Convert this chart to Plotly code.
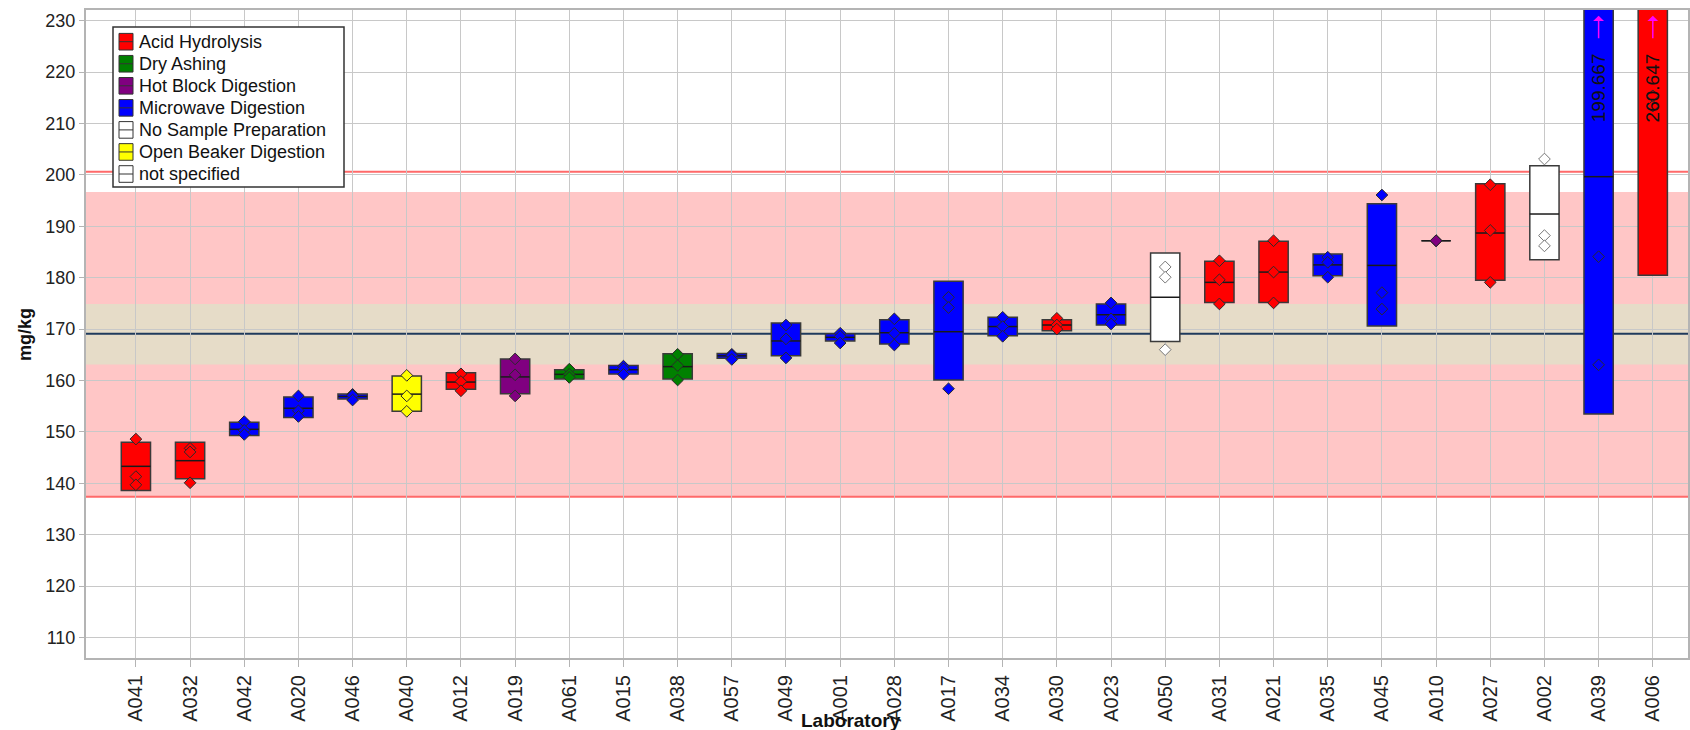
import plotly.graph_objects as go

labs = ["A041","A032","A042","A020","A046","A040","A012","A019","A061","A015",
        "A038","A057","A049","A001","A028","A017","A034","A030","A023","A050",
        "A031","A021","A035","A045","A010","A027","A002","A039","A006"]
methods = ["Acid Hydrolysis","Acid Hydrolysis","Microwave Digestion","Microwave Digestion",
           "Microwave Digestion","Open Beaker Digestion","Acid Hydrolysis","Hot Block Digestion",
           "Dry Ashing","Microwave Digestion","Dry Ashing","Microwave Digestion",
           "Microwave Digestion","Microwave Digestion","Microwave Digestion","Microwave Digestion",
           "Microwave Digestion","Acid Hydrolysis","Microwave Digestion","No Sample Preparation",
           "Acid Hydrolysis","Acid Hydrolysis","Microwave Digestion","Microwave Digestion",
           "Hot Block Digestion","Acid Hydrolysis","not specified","Microwave Digestion",
           "Acid Hydrolysis"]
box_low = [138.6,140.9,149.3,152.8,156.4,154.0,158.3,157.4,160.3,161.25,160.3,164.35,164.8,
           167.7,167.1,160.1,168.7,169.7,170.8,167.6,175.2,175.2,180.4,170.6,187.2,179.5,
           183.5,153.5,180.5]
box_mid = [143.3,144.4,150.5,154.6,156.9,157.35,159.7,160.7,161.2,162.1,162.7,164.8,167.7,
           168.4,169.3,169.5,170.5,170.8,172.8,176.2,179.1,181.1,182.5,182.4,187.2,188.7,
           192.4,199.667,260.647]
box_high = [148.0,148.0,151.9,156.8,157.35,160.9,161.5,164.2,162.1,162.9,165.2,165.25,171.2,
            169.1,171.8,179.3,172.3,171.8,174.9,184.8,183.2,187.1,184.6,194.4,187.2,198.3,
            201.8,245.9,340.7]
rep1 = [148.6,146.8,152.0,157.0,157.3,161.0,161.3,164.2,162.2,162.8,165.1,165.1,170.8,169.2,
        172.0,176.2,172.3,172.1,175.1,182.1,183.3,187.2,184.0,196.1,187.2,198.1,203.1,184.1,213.4]
rep2 = [141.3,146.1,150.3,154.1,157.1,157.0,159.8,161.1,161.2,162.3,162.9,164.9,168.1,168.6,
        169.2,174.2,170.5,170.8,172.0,180.1,179.6,181.1,183.0,177.1,187.2,189.2,188.2,163.05,215.4]
rep3 = [139.7,140.1,149.5,153.0,156.2,154.0,158.0,157.0,160.6,161.2,160.1,164.1,164.4,167.3,
        166.9,158.4,168.6,170.0,171.0,166.0,174.9,175.1,180.1,173.9,187.2,179.1,186.2,251.85,353.1]

method_order = ["Acid Hydrolysis","Dry Ashing","Hot Block Digestion","Microwave Digestion",
                "No Sample Preparation","Open Beaker Digestion","not specified"]
method_colors = ["#FF0000","#008000","#800080","#0000FF","#FFFFFF","#FFFF00","#FFFFFF"]

assigned_value = 169.1
inner_band = [163.1, 174.9]
outer_band = [137.4, 196.7]
limit_lines = [137.4, 200.6]

y_range = [106, 232.1]
x_range = [-0.921, 28.65]
box_w = 0.54

FONT = "Liberation Sans, Arial"
L, R, T, B = 86, 2, 10, 72
W, H = 1690, 730
pw, ph = W - L - R, H - T - B


def px2x(p):
    return (p - L) / pw


def px2y(p):
    return (H - B - p) / ph


fig = go.Figure()

# boxes (mean +/- sd) per method
for m, c in zip(method_order, method_colors):
    idx = [i for i, mm in enumerate(methods) if mm == m]
    if not idx:
        continue
    fig.add_trace(go.Bar(
        x=idx, y=[box_high[i] - box_low[i] for i in idx], base=[box_low[i] for i in idx],
        width=box_w, name=m, showlegend=False,
        marker=dict(color=c, line=dict(color="#3a3a3a", width=1.5)),
    ))

# mean lines
mx, my = [], []
for i, v in enumerate(box_mid):
    mx += [i - box_w / 2, i + box_w / 2, None]
    my += [v, v, None]
fig.add_trace(go.Scatter(x=mx, y=my, mode="lines", line=dict(color="#1a1a1a", width=1.5),
                         showlegend=False, hoverinfo="skip"))

# replicate points
for m, c in zip(method_order, method_colors):
    idx = [i for i, mm in enumerate(methods) if mm == m]
    if not idx:
        continue
    px, py = [], []
    for i in idx:
        for r in (rep1, rep2, rep3):
            px.append(i)
            py.append(r[i])
    edge = "#777777" if c == "#FFFFFF" else "#2a2a2a"
    fig.add_trace(go.Scatter(x=px, y=py, mode="markers", showlegend=False,
                             marker=dict(symbol="diamond", size=9, color=c,
                                         line=dict(color=edge, width=1))))

shapes = [
    dict(type="rect", xref="paper", yref="y", x0=0, x1=1, y0=outer_band[0], y1=outer_band[1],
         fillcolor="#FFC6C6", line=dict(width=0), layer="below"),
    dict(type="rect", xref="paper", yref="y", x0=0, x1=1, y0=inner_band[0], y1=inner_band[1],
         fillcolor="#E6DCC8", line=dict(width=0), layer="below"),
]
for v in limit_lines:
    shapes.append(dict(type="line", xref="paper", yref="y", x0=0, x1=1, y0=v, y1=v,
                       line=dict(color="#FF6A6A", width=2), layer="between"))
shapes.append(dict(type="line", xref="paper", yref="y", x0=0, x1=1, y0=assigned_value,
                   y1=assigned_value, line=dict(color="#1F3A5C", width=2), layer="between"))

annotations = []
for i, v in enumerate(box_mid):
    if box_high[i] > y_range[1]:
        annotations.append(dict(x=i, y=217, xref="x", yref="y", text=f"{v:.3f}",
                                textangle=-90, showarrow=False,
                                xanchor="center", yanchor="middle",
                                font=dict(family=FONT, size=19, color="#111")))
        annotations.append(dict(x=i, y=231.0, xref="x", yref="y", ax=i, ay=226.3,
                                axref="x", ayref="y", text="", showarrow=True,
                                arrowhead=1, arrowsize=1.2, arrowwidth=1.5,
                                arrowcolor="#FF00FF"))

annotations.append(dict(x=px2x(25), y=px2y(334), xref="paper", yref="paper",
                        text="<b>mg/kg</b>", showarrow=False, textangle=-90,
                        xanchor="center", yanchor="middle",
                        font=dict(family=FONT, size=18, color="#111")))
annotations.append(dict(x=px2x(851), y=px2y(720), xref="paper", yref="paper",
                        text="<b>Laboratory</b>", showarrow=False,
                        xanchor="center", yanchor="middle",
                        font=dict(family=FONT, size=19, color="#111")))

# custom legend (box icons with a centre line)
lg_x0, lg_x1, lg_y0, lg_y1 = 113, 344, 27, 187
shapes.append(dict(type="rect", xref="paper", yref="paper", x0=px2x(lg_x0), x1=px2x(lg_x1),
                   y0=px2y(lg_y1), y1=px2y(lg_y0), fillcolor="white",
                   line=dict(color="#333333", width=1.5), layer="above"))
for k, (m, c) in enumerate(zip(method_order, method_colors)):
    cy = 41.7 + 22.05 * k
    shapes.append(dict(type="rect", xref="paper", yref="paper", x0=px2x(119), x1=px2x(133),
                       y0=px2y(cy + 8.3), y1=px2y(cy - 8.3), fillcolor=c,
                       line=dict(color="#333333", width=1), layer="above"))
    shapes.append(dict(type="line", xref="paper", yref="paper", x0=px2x(119), x1=px2x(133),
                       y0=px2y(cy), y1=px2y(cy), line=dict(color="#333333", width=1),
                       layer="above"))
    annotations.append(dict(x=px2x(137), y=px2y(cy), xref="paper", yref="paper", text=m,
                            xanchor="left", yanchor="middle", showarrow=False,
                            font=dict(family=FONT, size=18, color="#111")))

fig.update_layout(
    width=W, height=H,
    margin=dict(l=L, r=R, t=T, b=B, autoexpand=False),
    paper_bgcolor="white", plot_bgcolor="rgba(0,0,0,0)",
    barmode="overlay", showlegend=False,
    font=dict(family=FONT, size=18, color="#222"),
    shapes=shapes, annotations=annotations,
    xaxis=dict(range=x_range, tickmode="array", tickvals=list(range(len(labs))),
               ticktext=labs, tickangle=-90, tickfont=dict(size=20), automargin=False,
               showgrid=True, gridcolor="#C8C8C8", gridwidth=1,
               showline=True, linecolor="#B4B4B4", linewidth=2, mirror=True,
               ticks="outside", ticklen=7, tickcolor="#B4B4B4", zeroline=False),
    yaxis=dict(range=y_range, tickmode="array", tickvals=list(range(110, 231, 10)),
               tickfont=dict(size=18), automargin=False,
               showgrid=True, gridcolor="#C8C8C8", gridwidth=1,
               showline=True, linecolor="#B4B4B4", linewidth=2, mirror=True,
               ticks="outside", ticklen=5, tickcolor="#B4B4B4", zeroline=False),
)

fig.write_html("out.html", config={"displayModeBar": False},
               post_script="document.body.style.margin='0px';"
                           "document.body.style.overflow='hidden';")
